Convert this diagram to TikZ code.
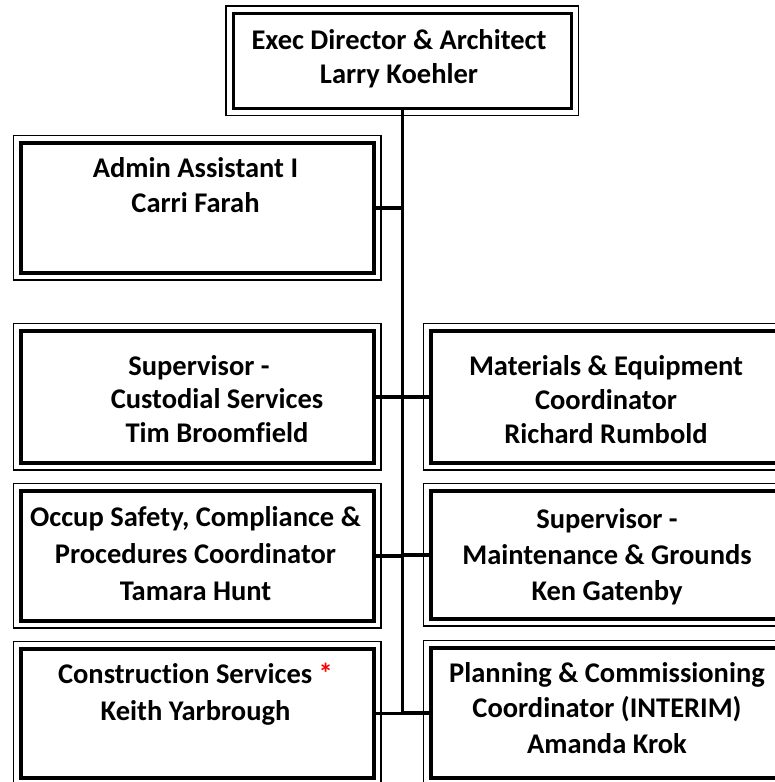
\documentclass[tikz,border=0pt]{standalone}
\usepackage{fontspec}
\setmainfont{Carlito}[Ligatures=NoCommon]
\newcommand\fln{\rule{0pt}{26pt}}
\newcommand\fsz[1]{\fontsize{28.5}{#1}\selectfont\bfseries}
\tikzset{
  orgbox/.style={draw=black, line width=3.6pt, rectangle, inner sep=0pt, anchor=north west, fill=white},
  orgtext/.style={anchor=north, inner sep=0pt, align=center, font=\fsz{35.5}},
  outerline/.style={draw=black, line width=1.3pt},
  link/.style={draw=black, line width=3.4pt}
}
\newcommand\orgoutline[1]{\draw[outerline] ([shift={(-5.5pt,5.5pt)}]#1.north west) rectangle ([shift={(5.5pt,-5.5pt)}]#1.south east);}
\begin{document}
\begin{tikzpicture}[x=1pt,y=-1pt]
\clip (0,0) rectangle (775,782);
\fill[white] (0,0) rectangle (775,782);
% boxes (inner thick line)
\node[orgbox, minimum width=338pt, minimum height=95pt] (top) at (231.5,11.5) {};
\node[orgbox, minimum width=353pt, minimum height=130pt] (admin) at (19,141) {};
\node[orgbox, minimum width=353pt, minimum height=132pt] (cust) at (19,329) {};
\node[orgbox, minimum width=353pt, minimum height=130pt] (occ) at (19,489) {};
\node[orgbox, minimum width=353pt, minimum height=129pt] (cons) at (19,647) {};
\node[orgbox, minimum width=353pt, minimum height=132pt] (mat) at (429,329) {};
\node[orgbox, minimum width=353pt, minimum height=128pt] (ken) at (429,489) {};
\node[orgbox, minimum width=353pt, minimum height=130pt] (plan) at (429,646) {};
\foreach \b in {top,admin,cust,occ,cons,mat,ken,plan} {\orgoutline{\b}}
% connectors
\coordinate (spinebot) at (401.5,712);
\draw[link] (top.south) -- (top.south |- spinebot);
\foreach \b in {admin,cust,occ,cons} {\draw[link] (\b.east) -- (\b.east -| spinebot);}
\foreach \b in {mat,ken,plan} {\draw[link] (\b.west) -- (\b.west -| spinebot);}
% texts (north = first baseline - 26)
\node[orgtext, font=\fsz{34}] (ttop) at (399,23.5) {\fln Exec Director \& Architect\\Larry Koehler};
\node[orgtext] (tadmin) at (195.5,151) {\fln Admin Assistant I\\Carri Farah};
\node[orgtext, font=\fsz{33.5}] (tcust) at (217,349) {\fln Supervisor -\hspace*{36pt}\\Custodial Services\\Tim Broomfield};
\node[orgtext, font=\fsz{37}] (tocc) at (195.5,500) {\fln Occup Safety, Compliance \&\\Procedures Coordinator\\Tamara Hunt};
\node[orgtext, font=\fsz{37}] (tcons) at (195.5,657) {\fln Construction Services \textcolor{red}{*}\\Keith Yarbrough};
\node[orgtext, font=\fsz{34}] (tmat) at (606,349) {\fln Materials \& Equipment\\Coordinator\\Richard Rumbold};
\node[orgtext, font=\fsz{36}] (tken) at (607,502) {\fln Supervisor -\\Maintenance \& Grounds\\Ken Gatenby};
\node[orgtext, font=\fsz{35.5}] (tplan) at (607,656) {\fln Planning \& Commissioning\\Coordinator (INTERIM)\\Amanda Krok};
\end{tikzpicture}
\end{document}
